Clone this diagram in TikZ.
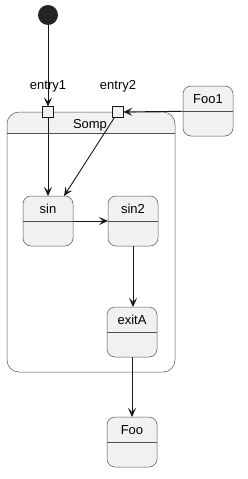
\documentclass[tikz,border=0pt]{standalone}
\usepackage{fontspec}
\setmainfont{Liberation Sans}
\usetikzlibrary{arrows.meta}
\definecolor{stfill}{HTML}{F1F1F1}
\definecolor{stline}{HTML}{181818}
\begin{document}
\begin{tikzpicture}[x=1pt,y=-1pt,
  every node/.style={font=\fontsize{13}{15}\selectfont, inner sep=0pt, outer sep=0pt},
  statebox/.style={draw=stline!75, line width=0.5pt, fill=stfill, rounded corners=8pt,
    minimum width=50pt, minimum height=50pt},
  portbox/.style={draw=stline, line width=0.8pt, fill=stfill, minimum width=11pt, minimum height=11pt},
  conn/.style={draw=stline, line width=0.9pt, -{Stealth[length=9pt,width=8pt,inset=4pt]}}
]
\useasboundingbox (0,0) rectangle (247,479);
% composite state
\begin{scope}
  \clip (0,100) rectangle (247,133);
  \fill[stfill, rounded corners=12pt] (7,112) rectangle (175,372);
\end{scope}
\node (somp) [draw=stline!75, line width=0.5pt, rounded corners=12pt,
  minimum width=168pt, minimum height=260pt] at (91,242) {};
\draw[stline!75, line width=0.5pt] (somp.west |- 0,133) -- (somp.east |- 0,133);
\node (somplabel) at (90,125) {Somp};
% initial
\node (init) [circle, fill=stline!95, minimum size=20pt] at (48,15) {};
% ports
\node (e1) [portbox] at (48,112) {};
\node (e2) [portbox] at (118,112) {};
\node (e1label) at (48,86) {entry1};
\node (e2label) at (118,86) {entry2};
% states
\node (sin) [statebox] at (48,221) {};
\draw[stline!75, line width=0.5pt] (sin.west) -- (sin.east);
\node (sinlabel) at (48,209) {sin};
\node (sin2) [statebox] at (133,221) {};
\draw[stline!75, line width=0.5pt] (sin2.west) -- (sin2.east);
\node (sin2label) at (133,209) {sin2};
\node (exitA) [statebox] at (132,332) {};
\draw[stline!75, line width=0.5pt] (exitA.west) -- (exitA.east);
\node (exitAlabel) at (132,320) {exitA};
\node (foo1) [statebox] at (208,111) {};
\draw[stline!75, line width=0.5pt] (foo1.west) -- (foo1.east);
\node (foo1label) at (208,99) {Foo1};
\node (foo) [statebox] at (132,442) {};
\draw[stline!75, line width=0.5pt] (foo.west) -- (foo.east);
\node (foolabel) at (132,430) {Foo};
% connectors
\draw[conn] (init) -- (e1);
\draw[conn] (e1) -- (sin);
\draw[conn] (e2) -- (sin);
\draw[conn] (foo1) -- (e2);
\draw[conn] (sin) -- (sin2);
\draw[conn] (sin2.south) -- (sin2.south |- exitA.north);
\draw[conn] (exitA.south) -- (exitA.south |- foo.north);
\end{tikzpicture}
\end{document}
